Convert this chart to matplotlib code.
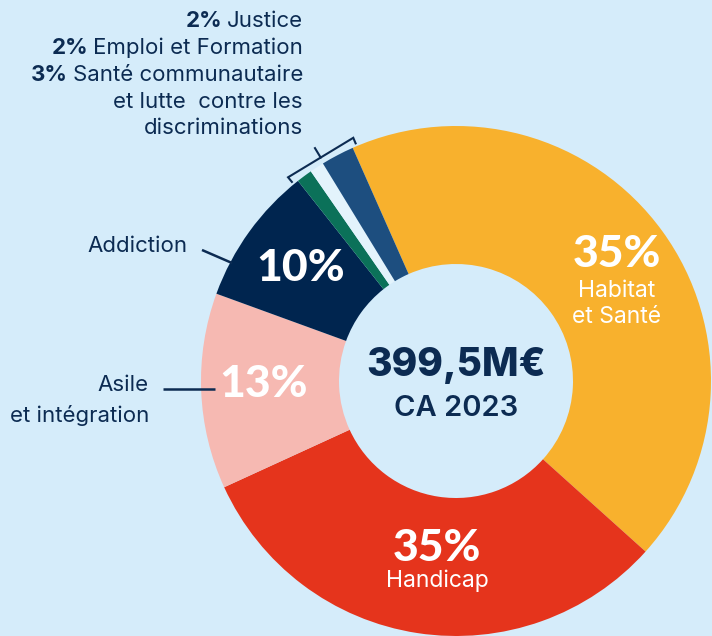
import numpy as np
import matplotlib.pyplot as plt

plt.rcParams['font.family'] = ['Inter', 'DejaVu Sans']

# slices in clockwise order, starting at the top with Habitat et Santé
categories = ['Habitat et Santé', 'Handicap', 'Asile et intégration', 'Addiction',
              'Emploi et Formation', 'Santé communautaire', 'Justice']
# arc sizes as drawn in the picture (they do not follow the printed percentages)
slice_values = [43.3, 31.5, 12.4, 8.8, 1.0, 0.9, 2.1]
pct_labels = ['35%', '35%', '13%', '10%', '2%', '3%', '2%']
total_label = '399,5M€'
year_label = 'CA 2023'

colors = ['#f8b12d', '#e5341c', '#f6b9b2', '#00254f', '#0b7159', '#e3f3fc', '#1d4e7f']
bg = '#d5ecfa'
navy = '#0c2b52'

W, H = 712, 636
def py(y):  # picture rows -> data y
    return H - y

fig = plt.figure(figsize=(W / 100, H / 100), dpi=100, facecolor=bg)
ax = fig.add_axes([0, 0, 1, 1])
ax.set_facecolor(bg)

R = 255
cx, cy = 456, py(381)
wedges, _ = ax.pie(slice_values, colors=colors, startangle=113.9, counterclock=False,
                   radius=R, center=(cx, cy),
                   wedgeprops=dict(width=138, linewidth=0))
ax.set_xlim(0, W)
ax.set_ylim(0, H)
ax.set_aspect('auto')
ax.axis('off')

big = dict(color='white', ha='center', va='center', fontsize=32,
           fontweight='black', family=['Lato', 'DejaVu Sans'])
white = dict(color='white', ha='center', va='center', fontsize=16.5)
# Habitat et Santé
ax.text(617, py(254), pct_labels[0], **big)
ax.text(617, py(291), 'Habitat', **white)
ax.text(617, py(317), 'et Santé', **white)
# Handicap
ax.text(437, py(548), pct_labels[1], **big)
ax.text(437, py(581), 'Handicap', **white)
# Asile / Addiction
ax.text(264, py(384), pct_labels[2], **big)
ax.text(301, py(268), pct_labels[3], **big)

# centre
ax.text(cx, py(366), total_label, fontsize=28, fontweight='heavy', color=navy,
        ha='center', va='center')
ax.text(cx, py(409), year_label, fontsize=21, fontweight='semibold', color=navy,
        ha='center', va='center')

# left labels with leader lines
ax.text(188, py(246), 'Addiction', fontsize=16, color=navy, ha='right', va='center')
ax.plot([202, 232], [py(250), py(263)], color=navy, lw=1.8, solid_capstyle='butt')
ax.text(149, py(385), 'Asile', fontsize=16, color=navy, ha='right', va='center')
ax.text(149, py(416), 'et intégration', fontsize=16, color=navy, ha='right', va='center')
ax.plot([163, 215], [py(389), py(389)], color=navy, lw=1.8, solid_capstyle='butt')

# top labels for the three small slices
def mixed_label(y, bold, rest):
    t = ax.text(303, py(y), rest, fontsize=16, color=navy, ha='right', va='center')
    if bold:
        ax.annotate(bold, xy=(0, 0.5), xycoords=t, xytext=(-3.5, 0),
                    textcoords='offset points', fontsize=16, fontweight='bold',
                    color=navy, ha='right', va='center')

mixed_label(21, pct_labels[6], 'Justice')
mixed_label(48, pct_labels[4], 'Emploi et Formation')
mixed_label(75, pct_labels[5], 'Santé communautaire')
mixed_label(102, '', 'et lutte  contre les')
mixed_label(128, '', 'discriminations')

# bracket over the small slices
a0 = np.radians(wedges[6].theta1 - 1)
a1 = np.radians(wedges[4].theta2 + 1.2)
rb, rt = R + 9, R + 3
p0 = (cx + rb * np.cos(a0), cy + rb * np.sin(a0))
p1 = (cx + rb * np.cos(a1), cy + rb * np.sin(a1))
t0 = (cx + rt * np.cos(a0), cy + rt * np.sin(a0))
t1 = (cx + rt * np.cos(a1), cy + rt * np.sin(a1))
ax.plot([t0[0], p0[0], p1[0], t1[0]], [t0[1], p0[1], p1[1], t1[1]],
        color=navy, lw=1.5, solid_joinstyle='miter')
am = 0.5 * (a0 + a1)
mx, my = 0.5 * (p0[0] + p1[0]), 0.5 * (p0[1] + p1[1])
ax.plot([mx, mx + 11 * np.cos(am)], [my, my + 11 * np.sin(am)], color=navy, lw=1.5)

fig.savefig('out.png', dpi=100, facecolor=bg)
